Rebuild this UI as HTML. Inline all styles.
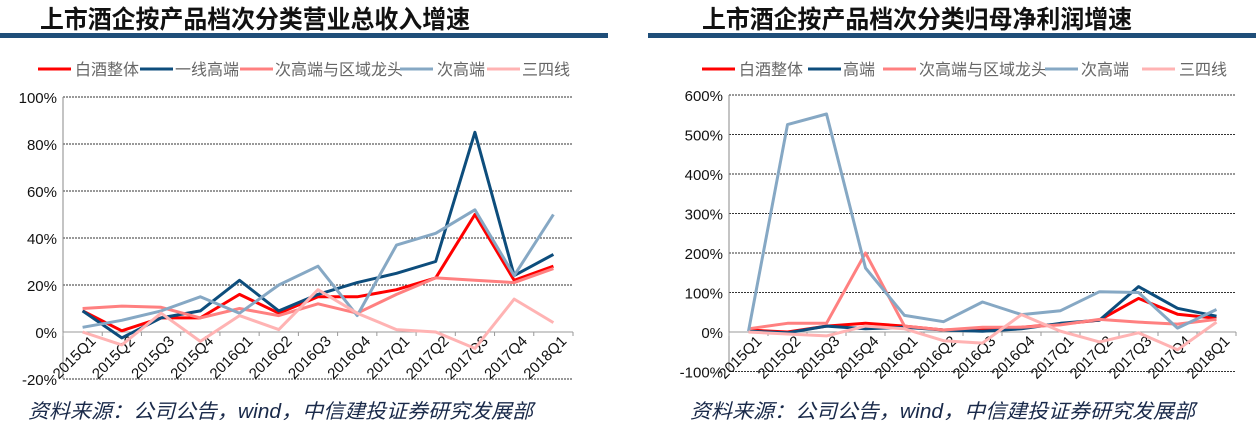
<!DOCTYPE html>
<html><head><meta charset="utf-8"><style>
html,body{margin:0;padding:0;background:#fff;width:1256px;height:430px;overflow:hidden}
svg{display:block}
text{font-family:"Liberation Sans","Noto Sans CJK SC",sans-serif}
</style></head><body>
<svg id="s" width="1256" height="430" xmlns="http://www.w3.org/2000/svg">
<rect width="1256" height="430" fill="#fff"/>
<text x="40" y="28" font-size="25" font-weight="bold" fill="#111" textLength="430" lengthAdjust="spacingAndGlyphs">上市酒企按产品档次分类营业总收入增速</text>
<rect x="0" y="33" width="608" height="5" fill="#1f4e79"/>
<text x="702" y="28" font-size="25" font-weight="bold" fill="#111" textLength="430" lengthAdjust="spacingAndGlyphs">上市酒企按产品档次分类归母净利润增速</text>
<rect x="648" y="33" width="608" height="5" fill="#1f4e79"/>
<text x="28" y="418" font-size="20" font-style="italic" fill="#1a2a4a" textLength="505" lengthAdjust="spacingAndGlyphs">资料来源：公司公告，wind，中信建投证券研究发展部</text>
<text x="690" y="418" font-size="20" font-style="italic" fill="#1a2a4a" textLength="505" lengthAdjust="spacingAndGlyphs">资料来源：公司公告，wind，中信建投证券研究发展部</text>
<g id="g"></g>
</svg>
<script>
const cols=["#ff0000","#0d4d7c","#ff8080","#86a8c4","#ffb3b3"];
const cats=["2015Q1","2015Q2","2015Q3","2015Q4","2016Q1","2016Q2","2016Q3","2016Q4","2017Q1","2017Q2","2017Q3","2017Q4","2018Q1"];
let h="";
function chart(o){
  const {x0,x1,yZero,unit,step,min,max,data,leg}=o;
  const cw=(x1-x0)/13;
  const Y=v=>yZero-v/unit;
  for(let v=min;v<=max;v+=step){
    const y=Y(v);
    if(v!==0) h+=`<line x1="${x0}" y1="${y}" x2="${x1}" y2="${y}" stroke="#333" stroke-width="1" stroke-dasharray="2,1"/>`;
    h+=`<text x="${x0-6}" y="${y+6}" font-size="15" text-anchor="end" fill="#111">${v}%</text>`;
  }
  h+=`<line x1="${x0}" y1="${Y(max)}" x2="${x0}" y2="${Y(min)}" stroke="#888" stroke-width="1"/>`;
  h+=`<line x1="${x0}" y1="${yZero}" x2="${x1}" y2="${yZero}" stroke="#999" stroke-width="1"/>`;
  for(let i=0;i<=13;i++){const x=x0+i*cw;h+=`<line x1="${x}" y1="${yZero}" x2="${x}" y2="${yZero+4}" stroke="#999"/>`;}
  cats.forEach((c,i)=>{const x=x0+(i+0.5)*cw+14,y=yZero+10;
    h+=`<text transform="translate(${x},${y}) rotate(-45)" font-size="15" text-anchor="end" fill="#111">${c}</text>`;});
  data.forEach((d,k)=>{
    const pts=d.map((v,i)=>`${(x0+(i+0.5)*cw).toFixed(1)},${Y(v).toFixed(1)}`).join(" ");
    h+=`<polyline points="${pts}" fill="none" stroke="${cols[k]}" stroke-width="3" stroke-linejoin="round"/>`;
  });
  leg.forEach(([lx,tx,t],k)=>{
    h+=`<line x1="${lx}" y1="69" x2="${lx+33}" y2="69" stroke="${cols[k]}" stroke-width="3"/>`;
    h+=`<text x="${tx}" y="75" font-size="16" fill="#666">${t}</text>`;
  });
}
chart({x0:63,x1:573,yZero:332,unit:20/47,step:20,min:-20,max:100,
 data:[
  [9,0.5,6,6,16,8,15,15,18,23,50,22,28],
  [9,-2.5,6,9,22,9,16,21,25,30,85,24,33],
  [10,11,10.5,6,10,7,12,8,16,23,22,21,27],
  [2,5,9,15,8,20,28,7,37,42,52,24,50],
  [0,-5.5,8,-4,7,1,18,8,1,0,-7,14,4]],
 leg:[[38,75,"白酒整体"],[140,175,"一线高端"],[240,275,"次高端与区域龙头"],[400,437,"次高端"],[487,522,"三四线"]]});
chart({x0:729,x1:1236,yZero:332,unit:100/39.5,step:100,min:-100,max:600,
 data:[
  [5,0,15,22,15,5,8,12,20,30,85,45,35],
  [2,-2,15,8,12,5,2,8,22,30,115,60,40],
  [8,22,22,200,15,5,12,12,18,32,25,20,32],
  [2,525,552,162,42,26,76,44,54,102,100,10,57],
  [0,-5,-10,15,8,-22,-28,44,2,-25,-2,-45,25]],
 leg:[[702,739,"白酒整体"],[808,843,"高端"],[883,919,"次高端与区域龙头"],[1045,1081,"次高端"],[1142,1179,"三四线"]]});
document.getElementById("g").innerHTML=h;
</script>
</body></html>
